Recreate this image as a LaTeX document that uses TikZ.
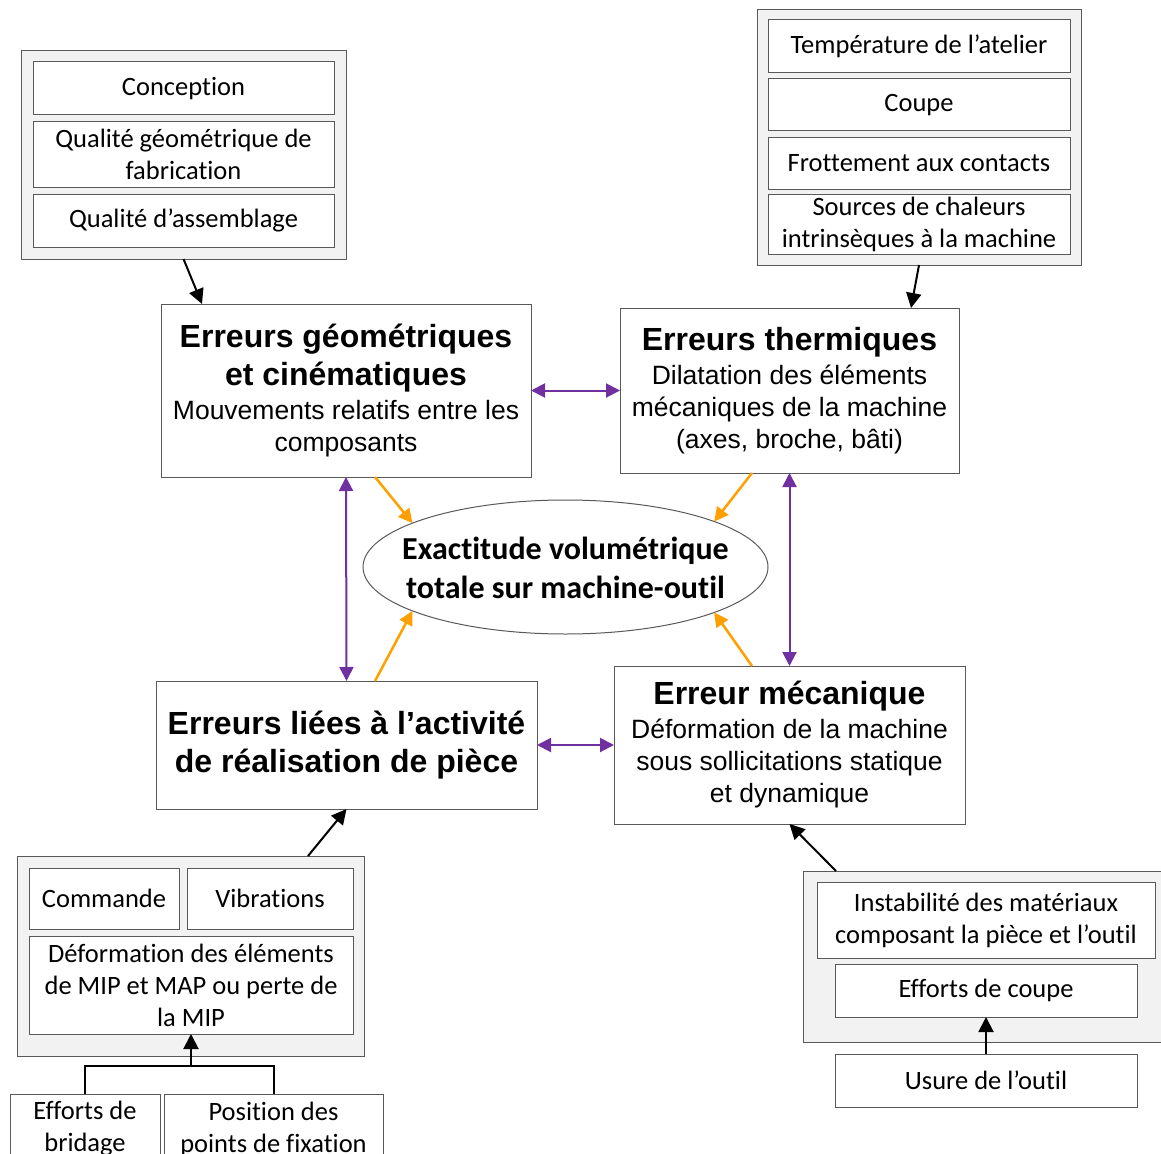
\documentclass[tikz,border=0pt]{standalone}
\usepackage{fontspec}
\setmainfont{Carlito}[Ligatures=NoCommon]
\newfontfamily\arialf{Liberation Sans}
\usetikzlibrary{arrows.meta,shapes.geometric,calc}
\definecolor{purp}{RGB}{112,48,160}
\definecolor{orng}{RGB}{255,160,0}
\definecolor{grpfill}{RGB}{242,242,242}
\definecolor{bord}{RGB}{89,89,89}
\newcommand\ttlfnt{\arialf\bfseries\fontsize{32}{38}\selectfont}
\newcommand\subfnt{\arialf\fontsize{26.5}{32}\selectfont}
\begin{document}
\begin{tikzpicture}[x=1pt,y=-1pt,
  every node/.style={inner sep=0pt,outer sep=0pt},
  grp/.style={draw=bord,fill=grpfill,line width=1pt,rectangle},
  item/.style={draw=bord,fill=white,line width=1pt,rectangle,align=center,font=\fontsize{26.5}{32}\selectfont},
  mainbox/.style={draw=bord,fill=white,line width=1pt,rectangle,align=center,font=\subfnt},
  blk/.style={draw=black,line width=2pt,-{Triangle[length=15pt,width=15pt]}},
  pur/.style={draw=purp,line width=2pt,{Triangle[length=14pt,width=14pt]}-{Triangle[length=14pt,width=14pt]}},
  org/.style={draw=orng,line width=2.5pt,-{Triangle[length=14pt,width=14pt]}},
  plain/.style={draw=black,line width=2pt}
]
\useasboundingbox (0,0) rectangle (1161,1153);

% top-left group
\node[grp,minimum width=325,minimum height=208] (g1) at (183.5,155) {};
\node[item,minimum width=301,minimum height=53] (conc) at (183.5,88.5) {Conception};
\node[item,minimum width=301,minimum height=65] (qgeo) at (183.5,154.5) {Qualité géométrique de\\fabrication};
\node[item,minimum width=301,minimum height=53] (qass) at (183.5,220.5) {Qualité d’assemblage};

% top-right group
\node[grp,minimum width=324,minimum height=255] (g2) at (919,137.5) {};
\node[item,minimum width=302,minimum height=53] (temp) at (919,46.5) {Température de l’atelier};
\node[item,minimum width=302,minimum height=52] (coupe) at (919,105) {Coupe};
\node[item,minimum width=302,minimum height=52] (frot) at (919,163) {Frottement aux contacts};
\node[item,minimum width=302,minimum height=60] (src) at (919,224) {Sources de chaleurs\\intrinsèques à la machine};

% main boxes
\node[mainbox,minimum width=370,minimum height=173] (geo) at (346,390.5)
  {\ttlfnt Erreurs géométriques\\[6pt]\ttlfnt et cinématiques\\[2pt]\subfnt Mouvements relatifs entre les\\\subfnt composants};
\node[mainbox,minimum width=339,minimum height=165] (therm) at (789.5,390.5)
  {\ttlfnt Erreurs thermiques\\[2pt]\subfnt Dilatation des éléments\\\subfnt mécaniques de la machine\\\subfnt (axes, broche, bâti)};
\node[draw=bord,fill=white,line width=1pt,ellipse,minimum width=405,minimum height=134] (ell) at (565.5,567) {};
\node[align=center,font=\bfseries\fontsize{32}{39}\selectfont] (elltxt) at (565.5,568)
  {Exactitude volumétrique\\totale sur machine-outil};
\node[mainbox,minimum width=381,minimum height=128] (piece) at (346.5,745)
  {\ttlfnt Erreurs liées à l’activité\\[6pt]\ttlfnt de réalisation de pièce};
\node[mainbox,minimum width=351,minimum height=158] (meca) at (789.5,745)
  {\ttlfnt Erreur mécanique\\[2pt]\subfnt Déformation de la machine\\\subfnt sous sollicitations statique\\\subfnt et dynamique};

% bottom-left group
\node[grp,minimum width=347,minimum height=200] (g3) at (190.5,956) {};
\node[item,minimum width=150,minimum height=61] (cmd) at (104,898.5) {Commande};
\node[item,minimum width=166,minimum height=61] (vib) at (270,898.5) {Vibrations};
\node[item,minimum width=324,minimum height=98] (def) at (191,985) {Déformation des éléments\\de MIP et MAP ou perte de\\la MIP};
\node[item,minimum width=150,minimum height=70] (brid) at (85,1129) {Efforts de\\bridage};
\node[item,minimum width=219,minimum height=70] (pos) at (273.5,1129) {Position des\\points de fixation};

% bottom-right group
\node[grp,minimum width=372,minimum height=171] (g4) at (989,956.5) {};
\node[item,minimum width=338,minimum height=76] (inst) at (986,920) {Instabilité des matériaux\\composant la pièce et l’outil};
\node[item,minimum width=302,minimum height=53] (effc) at (986,990.5) {Efforts de coupe};
\node[item,minimum width=302,minimum height=53] (usure) at (986,1080.5) {Usure de l’outil};

% black arrows
\draw[blk] (g1.south) -- ([xshift=41pt]geo.north west);
\draw[blk] (g2.south) -- ([xshift=291pt]therm.north west);
\draw[blk] ([xshift=291pt]g3.north west) -- (piece.south);
\draw[blk] ([xshift=33pt]g4.north west) -- (meca.south);
\draw[blk] (usure.north) -- (effc.south);
\coordinate (jn) at (191,1066);
\draw[plain] (brid.north) |- (jn) -| (pos.north);
\draw[blk] (jn) -- (def.south);

% purple double arrows
\draw[pur] (geo.east) -- (therm.west);
\draw[pur] (geo.south) -- (piece.north);
\draw[pur] (therm.south) -- (meca.north);
\draw[pur] (piece.east) -- (meca.west);

% orange arrows
\draw[org] ([xshift=214pt]geo.south west) -- (ell.164);
\draw[org] ([xshift=132pt]therm.south west) -- (ell.17);
\draw[org] ([xshift=219pt]piece.north west) -- (ell.196);
\draw[org] ([xshift=138pt]meca.north west) -- (ell.343);
\end{tikzpicture}
\end{document}
